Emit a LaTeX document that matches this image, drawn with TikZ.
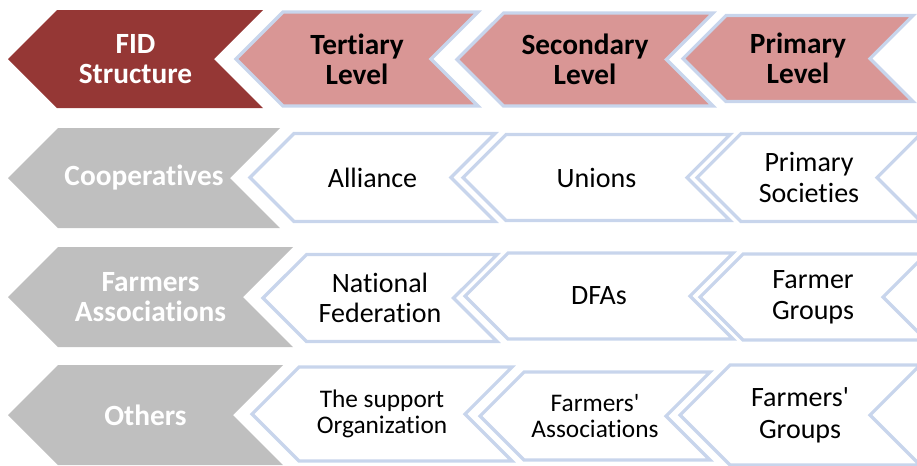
\documentclass[tikz,border=0pt]{standalone}
\usepackage{fontspec}
\setmainfont{Carlito}[Ligatures={NoCommon}]
\usetikzlibrary{shapes.symbols}
\definecolor{fidred}{RGB}{149,55,53}
\definecolor{fidpink}{RGB}{217,150,149}
\definecolor{fidgrey}{RGB}{191,191,191}
\definecolor{fidline}{RGB}{200,213,236}
\tikzset{
  chev/.style 2 args={shape=signal, signal to=west, signal from=east,
    signal pointer angle=90, inner sep=0pt, align=center,
    minimum width=#1*0.75pt, minimum height=#2*0.75pt},
  titlebox/.style={fill=fidred, text=white, font=\bfseries\fontsize{22}{22.5}\selectfont},
  levelbox/.style={fill=fidpink, draw=fidline, line width=2.4pt, font=\bfseries\fontsize{22}{22.5}\selectfont},
  kindbox/.style={fill=fidgrey, text=white, font=\bfseries\fontsize{22}{23}\selectfont},
  bodybox/.style={fill=white, draw=fidline, line width=2.4pt, font=\fontsize{21}{23}\selectfont},
  smallbox/.style={bodybox, font=\fontsize{19}{20}\selectfont},
}
\begin{document}
\begin{tikzpicture}[x=0.75pt,y=-0.75pt]
\useasboundingbox (0,0) rectangle (917,465);
\clip (0,0) rectangle (917,465);
%
% levels
\node[chev={255}{98}, titlebox] (fid) at (135.5,59) {FID\\Structure};
\node[chev={242}{94}, levelbox] (tertiary) at (357,59) {Tertiary\\Level};
\node[chev={256}{93}, levelbox] (secondary) at (585,59.5) {Secondary\\Level};
\node[chev={230}{86}, levelbox] (primary) at (798,58.5) {Primary\\Level};
%
% cooperatives
\node[chev={272}{100}, kindbox] (coop) at (144,178) {Cooperatives};
\node[chev={245}{88}, bodybox] (alliance) at (372.5,177.5) {Alliance};
\node[chev={267}{86}, bodybox] (unions) at (596.5,177.5) {Unions};
\node[chev={224}{88}, bodybox] (societies) at (809,177.5) {Primary\\Societies};
%
% farmers associations
\node[chev={285}{100}, kindbox] (farmassoc) at (150.5,297) {Farmers\\Associations};
\node[chev={234}{87}, bodybox] (natfed) at (380,298) {National\\Federation};
\node[chev={268}{86}, bodybox] (dfas) at (599,296) {DFAs};
\node[chev={226}{86}, bodybox] (farmgroups) at (813,297) {Farmer\\Groups};
%
% others
\node[chev={275}{100}, kindbox] (others) at (145.5,415) {Others};
\node[chev={260}{94}, smallbox] (support) at (382,414) {The support\\Organization};
\node[chev={230}{88}, smallbox] (fassoc) at (595,416) {Farmers\textquotesingle\\Associations};
\node[chev={240}{100}, bodybox, font=\fontsize{21}{24}\selectfont] (fgroups) at (800,415) {Farmers\textquotesingle\\Groups};
%
\end{tikzpicture}
\end{document}
